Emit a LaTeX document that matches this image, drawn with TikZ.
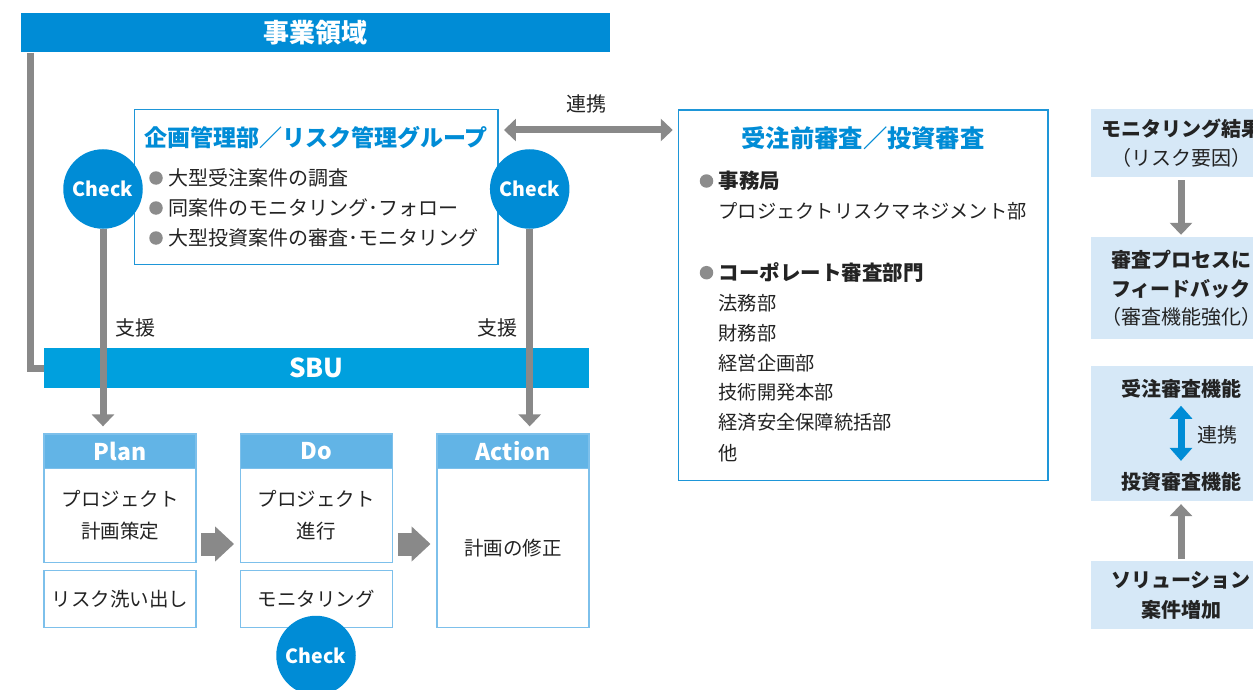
\documentclass[tikz,border=0pt]{standalone}
\usepackage{fontspec}
\setmainfont{Noto Sans CJK JP}
\usetikzlibrary{arrows.meta}
\definecolor{barblue}{RGB}{0,140,214}
\definecolor{sbublue}{RGB}{0,160,222}
\definecolor{headblue}{RGB}{98,180,230}
\definecolor{lineblue}{RGB}{30,150,216}
\definecolor{paleline}{RGB}{125,192,235}
\definecolor{paleblue}{RGB}{214,232,247}
\definecolor{arrowgray}{RGB}{137,137,137}
\definecolor{dotgray}{RGB}{140,140,140}
\definecolor{ink}{RGB}{35,35,35}
\newcommand{\fsz}[2]{\fontsize{#1}{#2}\selectfont}

\begin{document}
\begin{tikzpicture}[x=1pt, y=-1pt, >={Triangle[width=22pt,length=12pt]},
	every node/.style={inner sep=0pt, text=ink},
	bar/.style={fill=barblue, text=white, font=\fsz{26}{30}\bfseries, minimum height=39.5pt},
	frame/.style={draw=lineblue, line width=1.3pt, fill=white},
	title/.style={text=barblue, font=\fsz{23}{26}\bfseries},
	txt/.style={font=\fsz{20}{24}},
	btxt/.style={font=\fsz{20.5}{24}\bfseries},
	dot/.style={circle, fill=dotgray, minimum size=13.5pt},
	check/.style={circle, fill=barblue, text=white, font=\fsz{19.5}{20}\bfseries, minimum size=79.5pt},
	head/.style={fill=headblue, draw=paleline, line width=1.3pt, text=white, font=\fsz{23}{26}\bfseries, minimum width=152pt, minimum height=34.7pt},
	body/.style={draw=paleline, line width=1.3pt, fill=white, align=center, font=\fsz{19.5}{32}, minimum width=152pt},
	pale/.style={fill=paleblue, minimum width=180pt, align=center, font=\fsz{20}{28.5}},
	garrow/.style={draw=arrowgray, line width=7pt},
	fat/.style={draw=arrowgray, line width=23pt, -{Triangle[width=34pt,length=19pt]}},
	barrow/.style={draw=barblue, line width=7pt, {Triangle[width=22pt,length=13pt]}-{Triangle[width=22pt,length=13pt]}}]

	\useasboundingbox (0,0) rectangle (1253,690);
	\fill[white] (0,0) rectangle (1253,690);
	\clip (0,0) rectangle (1253,690);

	% bars
	\node[bar, minimum width=589pt] (biz) at (315.5,32.75) {事業領域};
	\node[bar, fill=sbublue, minimum width=545pt] (sbu) at (316.5,368) {SBU};

	% planning / risk group
	\node[frame, minimum width=363.5pt, minimum height=155pt] (kk) at (316.25,187) {};
	\node[title] (kkt) at (316,138) {企画管理部／リスク管理グループ};
	\node[dot] (kd1) at (156,178) {};
	\node[dot] (kd2) at (156,208) {};
	\node[dot] (kd3) at (156,238) {};
	\node[txt, anchor=west] (k1) at (168,178) {大型受注案件の調査};
	\node[txt, anchor=west] (k2) at (168,208) {同案件のモニタリング･フォロー};
	\node[txt, anchor=west] (k3) at (168,238) {大型投資案件の審査･モニタリング};

	% screening box
	\node[frame, minimum width=369.3pt, minimum height=370.7pt] (jz) at (863.35,295.35) {};
	\node[title, font=\fsz{24.3}{27}\bfseries] (jzt) at (863,138.3) {受注前審査／投資審査};
	\node[dot] (jd1) at (706.5,181) {};
	\node[btxt, anchor=west] (j1) at (718.3,181) {事務局};
	\node[txt, font=\fsz{19.25}{24}, anchor=west] (j2) at (718.3,211) {プロジェクトリスクマネジメント部};
	\node[dot] (jd2) at (706.5,272.7) {};
	\node[btxt, anchor=west] (j3) at (718.3,272.7) {コーポレート審査部門};
	\node[txt, font=\fsz{19.25}{24}, anchor=west] (j4) at (718.3,302.7) {法務部};
	\node[txt, font=\fsz{19.25}{24}, anchor=west] (j5) at (718.3,332.7) {財務部};
	\node[txt, font=\fsz{19.25}{24}, anchor=west] (j6) at (718.3,362.7) {経営企画部};
	\node[txt, font=\fsz{19.25}{24}, anchor=west] (j7) at (718.3,392.7) {技術開発本部};
	\node[txt, font=\fsz{19.25}{24}, anchor=west] (j8) at (718.3,422.7) {経済安全保障統括部};
	\node[txt, font=\fsz{19.25}{24}, anchor=west] (j9) at (718.3,452.7) {他};

	% PDCA
	\node[head] (p) at (120,451.35) {Plan};
	\node[body, minimum height=94pt] (pb) at (120,515.7) {プロジェクト\\計画策定};
	\node[body, minimum height=56.6pt] (pr) at (120,599) {リスク洗い出し};
	\node[head] (d) at (316.4,451.35) {Do};
	\node[body, minimum height=94pt] (db) at (316.4,515.7) {プロジェクト\\進行};
	\node[body, minimum height=56.6pt] (dr) at (316.4,599) {モニタリング};
	\node[head] (a) at (512.9,451.35) {Action};
	\node[body, minimum height=158.6pt] (ab) at (512.9,548) {計画の修正};
	\coordinate (fa) at (0,544);
	\draw[fat, shorten <=4.7pt, shorten >=5.7pt] (pb.east |- fa) -- (db.west |- fa);
	\draw[fat, shorten <=4.7pt, shorten >=5.7pt] (db.east |- fa) -- (ab.west |- fa);

	% right column
	\node[pale, minimum height=68pt] (r1) at (1181,143.3) {\textbf{モニタリング結果}\\（リスク要因）};
	\node[pale, minimum height=102pt] (r2) at (1181,288.3) {\textbf{審査プロセスに}\\\textbf{フィードバック}\\（審査機能強化）};
	\node[pale, minimum height=134.7pt] (r3) at (1181,433.3) {};
	\node[font=\fsz{20}{24}\bfseries] (r3a) at (1181,389) {受注審査機能};
	\node[font=\fsz{20}{24}\bfseries] (r3b) at (1181,481.7) {投資審査機能};
	\node[txt] (r3c) at (1217,435) {連携};
	\node[pale, font=\fsz{20}{30}\bfseries, minimum height=68.6pt] (r4) at (1181,595) {ソリューション\\案件増加};
	\draw[barrow, shorten <=7pt, shorten >=11pt] (r3a.south) -- (r3b.north);
	\draw[garrow, ->, shorten <=2.7pt, shorten >=2.3pt] (r1.south) -- (r2.north);
	\draw[garrow, ->, shorten <=1.7pt, shorten >=3.3pt] (r4.north) -- (r3.south);

	% connectors
	\node[check] (c1) at (103,189) {Check};
	\node[check] (c2) at (529.7,189) {Check};
	\draw[garrow] ([xshift=10pt]biz.south west) |- (sbu.west);
	\draw[garrow, ->, shorten >=7pt] (c1.south) -- (c1.south |- p.north);
	\draw[garrow, ->, shorten >=7pt] (c2.south) -- (c2.south |- a.north);
	\node[txt] (s1) at (135,328) {支援};
	\node[txt] (s2) at (497,328) {支援};
	\coordinate (lk) at (587,130);
	\draw[garrow, <->, shorten <=5.3pt, shorten >=5.3pt] (kk.east |- lk) -- (jz.west |- lk);
	\node[txt] (lkt) at (586,104) {連携};
	\node[check] (c3) at (316,655.5) {Check};
\end{tikzpicture}
\end{document}
